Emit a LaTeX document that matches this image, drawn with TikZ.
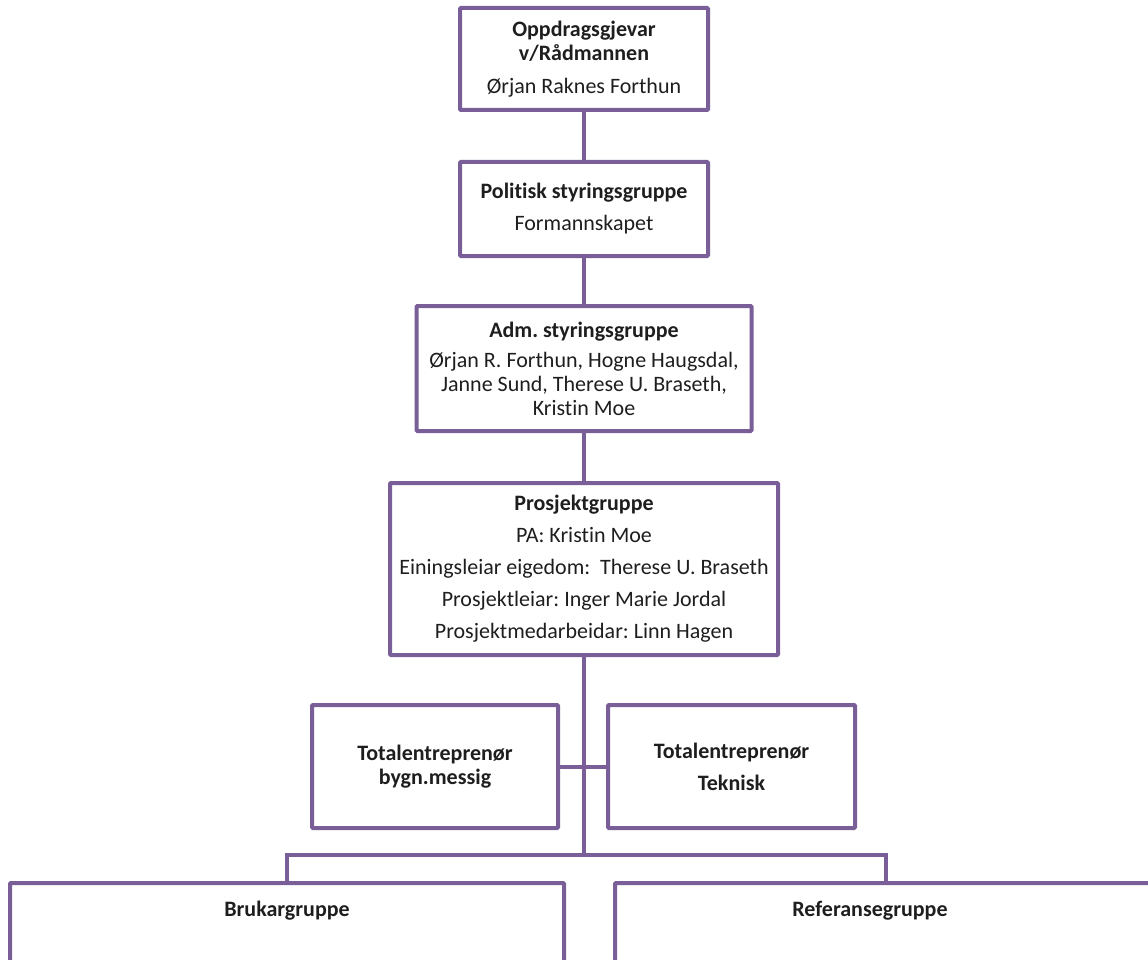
\documentclass[tikz,border=0pt]{standalone}
\usepackage{fontspec}
\setmainfont[Ligatures=NoCommon]{Carlito}
\frenchspacing
\definecolor{lilla}{RGB}{122,94,152}
\definecolor{skrift}{RGB}{30,30,30}
\tikzset{
  boks/.style={draw=lilla, line width=4pt, rounded corners=1pt, align=center, inner sep=0pt,
    text=skrift, font=\fontsize{22}{24}\selectfont},
  tekst/.style={inner sep=0pt, align=center, text=skrift, font=\fontsize{22}{24}\selectfont},
  kopling/.style={draw=lilla, line width=4pt}
}
\begin{document}
\begin{tikzpicture}[x=1pt, y=-1pt, line join=miter]
    \useasboundingbox (0,0) rectangle (1148,960); % same margins as the page
    % chain of boxes down the middle
    \node[boks, minimum width=248pt, minimum height=102pt] (oppdrag) at (584,59)
        {\textbf{Oppdragsgjevar}\\\textbf{v/Rådmannen}\\[9pt]Ørjan Raknes Forthun};
    \node[boks, minimum width=248pt, minimum height=94pt] (politisk) at (584,209)
        {\textbf{Politisk styringsgruppe}\\[8pt]Formannskapet};
    \node[boks, minimum width=335pt, minimum height=125pt] (adm) at (584,368.5)
        {\textbf{Adm. styringsgruppe}\\[6pt]Ørjan R. Forthun, Hogne Haugsdal,\\Janne Sund, Therese U. Braseth,\\Kristin Moe};
    \node[boks, minimum width=388pt, minimum height=172pt] (prosjekt) at (584,569)
        {\textbf{Prosjektgruppe}\\[8pt]PA: Kristin Moe\\[8pt]Einingsleiar eigedom:\ \ Therese U. Braseth\\[8pt]Prosjektleiar: Inger Marie Jordal\\[8pt]Prosjektmedarbeidar: Linn Hagen};
    % the two contractors
    \node[boks, minimum width=246pt, minimum height=123pt] (totbygg) at (435,766.5)
        {\textbf{Totalentreprenør}\\\textbf{bygn.messig}};
    \node[boks, minimum width=247pt, minimum height=123pt] (totteknisk) at (731.5,766.5)
        {\textbf{Totalentreprenør}\\[8pt]\textbf{Teknisk}};
    % bottom groups, cut by the page edge
    \node[boks, minimum width=554pt, minimum height=200pt, anchor=north] (brukar) at (287,881) {};
    \node[boks, minimum width=600pt, minimum height=200pt, anchor=north west] (referanse) at (613,881) {};
    \node[tekst] (brukartekst) at (287,911) {\textbf{Brukargruppe}};
    \node[tekst] (referansetekst) at (870,911) {\textbf{Referansegruppe}};
    \coordinate (deling) at (584,855);
    \coordinate (reftopp) at (886,881);
    % connectors
    \draw[kopling] (oppdrag) -- (politisk);
    \draw[kopling] (politisk) -- (adm);
    \draw[kopling] (adm) -- (prosjekt);
    \draw[kopling] (prosjekt) -- (deling);
    \draw[kopling] (totbygg) -- (totteknisk);
    \draw[kopling] (brukar.north) |- (deling) -| (reftopp);
\end{tikzpicture}
\end{document}
